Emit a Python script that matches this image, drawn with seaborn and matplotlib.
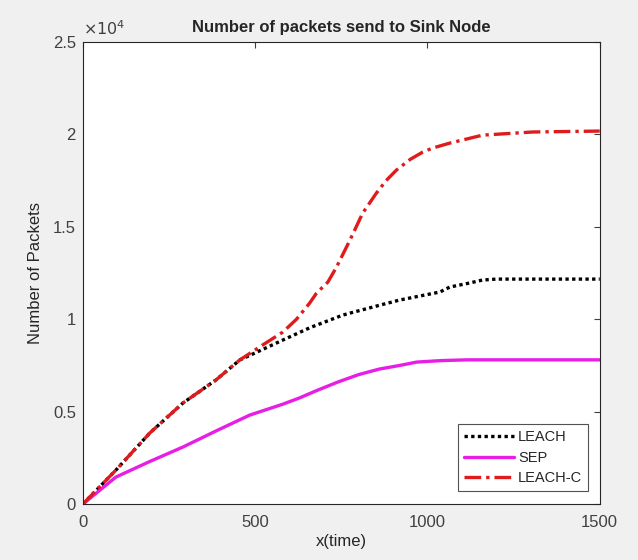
import numpy as np
import pandas as pd
import matplotlib
matplotlib.use("Agg")
import matplotlib.pyplot as plt
import seaborn as sns

# values
leach_x = [0, 96, 194, 290, 386, 455, 520, 580, 660, 754, 775, 860, 920, 1036, 1065, 1120, 1160, 1200, 1500]
leach_y = [0, 1840, 3840, 5460, 6710, 7790, 8350, 8870, 9550, 10220, 10330, 10750, 11040, 11470, 11740, 11950, 12120, 12170, 12170]

sep_x = [0, 96, 194, 290, 386, 484, 580, 630, 680, 740, 800, 860, 920, 969, 1040, 1114, 1500]
sep_y = [0, 1460, 2300, 3080, 3950, 4810, 5400, 5750, 6150, 6600, 7000, 7300, 7500, 7680, 7760, 7800, 7800]

leachc_x = [0, 96, 194, 290, 386, 455, 513, 580, 620, 658, 678, 711, 736, 775, 812,
            852, 880, 910, 950, 986, 1015, 1065, 1160, 1305, 1500]
leachc_y = [0, 1840, 3840, 5460, 6710, 7790, 8500, 9300, 10000, 10870, 11410, 12010, 12820,
            14280, 15740, 16830, 17500, 18070, 18650, 19040, 19260, 19530, 19960, 20130, 20180]

ytick_vals = [0, 5000, 10000, 15000, 20000, 25000]
ytick_labels = ["0", "0.5", "1", "1.5", "2", "2.5"]
xtick_vals = [0, 500, 1000, 1500]

df = pd.concat([
    pd.DataFrame({"x": leach_x, "y": leach_y, "proto": "LEACH"}),
    pd.DataFrame({"x": sep_x, "y": sep_y, "proto": "SEP"}),
    pd.DataFrame({"x": leachc_x, "y": leachc_y, "proto": "LEACH-C"}),
])

sns.set_style("white")
plt.rcParams["font.family"] = ["Liberation Sans", "DejaVu Sans"]

fig = plt.figure(figsize=(6.38, 5.6), dpi=100, facecolor="#f0f0f0")
ax = fig.add_axes([0.130, 0.100, 0.810, 0.825])
ax.set_facecolor("white")

styles = {"LEACH": ("black", (0, (1, 1))),
          "SEP": ("#e61ee6", "-"),
          "LEACH-C": ("#e01b1b", (0, (5, 1.5, 1, 1.5)))}
for name in ["LEACH", "SEP", "LEACH-C"]:
    color, ls = styles[name]
    sns.lineplot(data=df[df["proto"] == name], x="x", y="y", ax=ax, color=color,
                 linestyle=ls, linewidth=2.4, label=name, estimator=None, sort=False)

ax.set_xlim(0, 1500)
ax.set_ylim(0, 25000)
ax.set_xticks(xtick_vals)
ax.set_xticklabels([str(v) for v in xtick_vals])
ax.set_yticks(ytick_vals)
ax.set_yticklabels(ytick_labels)
ax.text(0.0, 1.008, r"$\times10^{4}$", transform=ax.transAxes, fontsize=11.5,
        color="#404040", ha="left", va="bottom")

ax.tick_params(axis="both", direction="in", top=True, right=True, labelsize=12,
               colors="#404040", length=4, width=0.8)
ax.tick_params(axis="x", pad=8)
ax.tick_params(axis="y", pad=5)
for s in ax.spines.values():
    s.set_color("#262626")
    s.set_linewidth(0.8)

ax.set_title("Number of packets send to Sink Node", fontsize=12, fontweight="bold", pad=7)
ax.set_xlabel("x(time)", fontsize=12, color="#262626", labelpad=3)
ax.set_ylabel("Number of Packets", fontsize=12, color="#262626", labelpad=7)

leg = ax.legend(loc="lower right", fontsize=10.5, frameon=True, fancybox=False,
                edgecolor="#262626", handlelength=3.4, handletextpad=0.3,
                borderpad=0.4, labelspacing=0.45, borderaxespad=0,
                bbox_to_anchor=(0.977, 0.028))
leg.get_frame().set_linewidth(0.8)

fig.savefig("out.png", dpi=100, facecolor=fig.get_facecolor())
